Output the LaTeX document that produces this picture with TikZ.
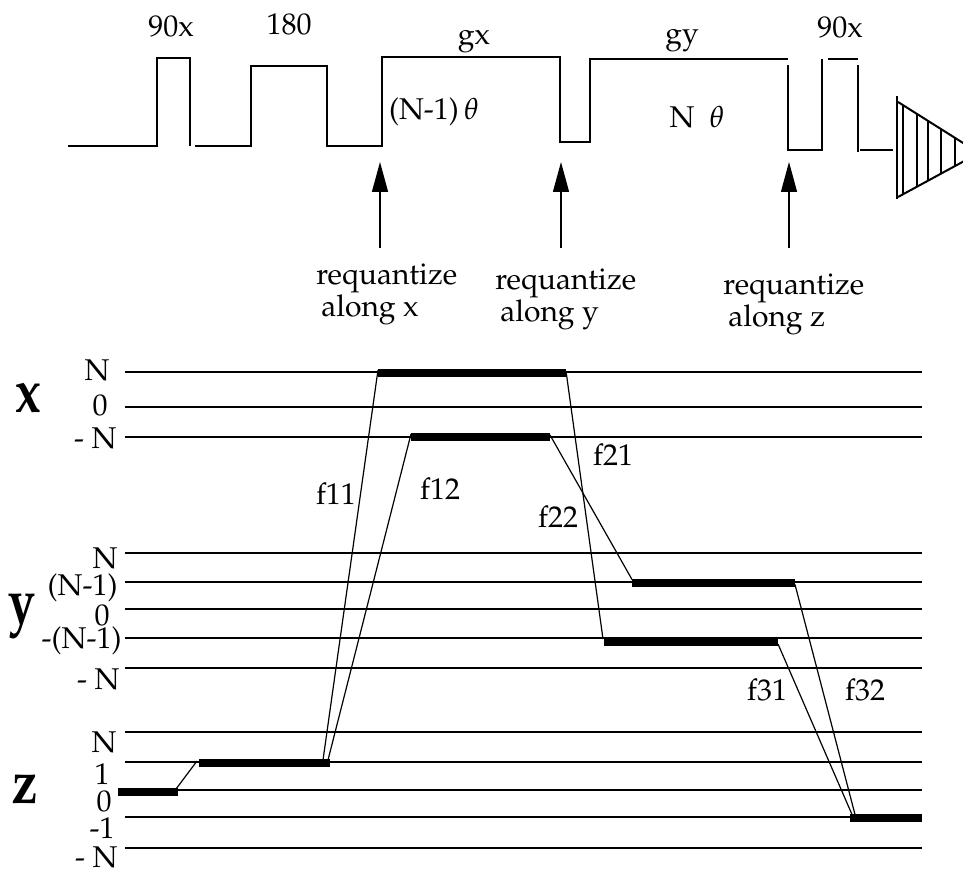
\documentclass[tikz,border=0pt]{standalone}
\usepackage[T1]{fontenc}
\usepackage{mathpazo}
\usetikzlibrary{arrows.meta,positioning,calc}
\tikzstyle{level} = [line width=0.9pt]
\tikzstyle{bar} = [line width=4pt]
\tikzstyle{jump} = [line width=0.6pt]
\tikzstyle{pulse} = [line width=0.7pt]
\tikzstyle{arrow} = [-{Triangle[length=15pt,width=8pt]}, line width=0.7pt]
\tikzstyle{lbl} = [font=\fontsize{15}{13.5}\selectfont, inner sep=0pt]
\tikzstyle{axis} = [font=\fontsize{31}{31}\selectfont\bfseries, inner sep=0pt]

\begin{document}
\begin{tikzpicture}[x=0.5pt,y=-0.5pt]
\useasboundingbox (0,0) rectangle (963,871);

% pulse sequence
\draw[pulse] (68,146) -- (157,146) -- (157,58) -- (190,58) -- (190,146);
\draw[pulse] (195,146) -- (251,146) -- (251,66) -- (327,66) -- (327,146) -- (382,146) -- (382,57) -- (560,57) -- (560,142) -- (590,142) -- (590,59) -- (788,59);
\draw[pulse] (788,65) -- (788,150) -- (822,150) -- (822,59);
\draw[pulse] (828,59) -- (858,59);
\draw[pulse] (858,65) -- (858,152);
\draw[pulse] (860,150) -- (893,150);
\begin{scope}
\clip (880,80) rectangle (963,210);
\draw[pulse] (897,96) -- (897,199);
\draw[line width=1pt] (898,102) -- (979,153) -- (898,197);
\foreach \hx in {903,917,928,941,955}
  \draw[pulse] (\hx,{102+0.63*(\hx-898)}) -- (\hx,{197-0.54*(\hx-898)});
\end{scope}

\node[lbl,anchor=base] (p90a) at (171,37) {90x};
\node[lbl,anchor=base] (p180) at (289,35) {180};
\node[lbl,anchor=base] (pgx) at (474,45) {gx};
\node[lbl,anchor=base] (pgy) at (682,44) {gy};
\node[lbl,anchor=base] (p90b) at (840,38) {90x};
\node[lbl] (thx) at (434,112) {(N-1)\,$\theta$};
\node[lbl] (thy) at (697,117) {N\ \ $\theta$};

% requantization arrows
\foreach \ax/\nm in {380/x,561/y,789/z} {
  \coordinate (tail\nm) at (\ax,248);
  \coordinate (tip\nm) at (\ax,162);
  \draw[arrow] (tail\nm) -- (tip\nm);
}
\node[lbl,align=left,anchor=north west] (rqx) at (316,263) {requantize\\ \,along x};
\node[lbl,align=left,anchor=north west] (rqy) at (495,268) {requantize\\ \,along y};
\node[lbl,align=left,anchor=north west] (rqz) at (723,273) {requantize\\ \,along z};

% energy levels
\foreach \ly in {372,407,437,553,582,609,638,668,732,762,790,817,848}
  \draw[level] (125,\ly) -- (922,\ly);
\foreach \lx/\ly/\txt [count=\i] in {110/370/N,108/405/0,117/438/- N,
    118/558/N,118/588/(N-1),110/615/0,122/641/-(N-1),120/679/- N,
    117/742/N,110/774/1,112/801/0,115/828/-1,118/857/- N}
  \node[lbl,anchor=east] (lv\i) at (\lx,\ly) {\txt};
\node[axis,anchor=base] (axx) at (28,412) {\scalebox{0.82}[1]{x}};
\node[axis,anchor=base] (axy) at (22,622) {\scalebox{0.78}[1]{y}};
\node[axis,anchor=base] (axz) at (25,803) {\scalebox{0.82}[1]{z}};

% populated levels
\coordinate (z0l) at (118,792); \coordinate (z0r) at (178,792);
\coordinate (z1l) at (199,763); \coordinate (z1r) at (330,763);
\coordinate (xNl) at (378,373); \coordinate (xNr) at (566,373);
\coordinate (xmNl) at (411,437); \coordinate (xmNr) at (550,437);
\coordinate (yNl) at (632,582.5); \coordinate (yNr) at (795,582.5);
\coordinate (ymNl) at (604,642); \coordinate (ymNr) at (778,642);
\coordinate (zml) at (850,817.5); \coordinate (zmr) at (922,817.5);
\foreach \b in {z0,z1,xN,xmN,yN,ymN,zm}
  \draw[bar] (\b l) -- (\b r);

% transitions
\draw[jump] ($(z0r)+(-2,-3)$) -- ($(z1l)+(-2,-2)$);
\draw[jump] ($(z1r)+(-7,-3)$) -- ($(xNl)+(0,-3)$);
\draw[jump] ($(z1r)+(-2,-3)$) -- ($(xmNl)+(0,-3)$);
\draw[jump] ($(xmNr)+(0,-2)$) -- ($(yNl)+(0,-3)$);
\draw[jump] ($(xNr)+(0,-2)$) -- ($(ymNl)+(-1,-3)$);
\draw[jump] ($(ymNr)+(0,2)$) -- ($(zml)+(2,-3)$);
\draw[jump] ($(yNr)+(0,2)$) -- ($(zml)+(5,-3)$);
\node[lbl] (f11) at (336,494) {f11};
\node[lbl] (f12) at (440,489) {f12};
\node[lbl] (f21) at (613,455) {f21};
\node[lbl] (f22) at (558,517) {f22};
\node[lbl] (f31) at (767,690) {f31};
\node[lbl] (f32) at (865,690) {f32};
\end{tikzpicture}
\end{document}
